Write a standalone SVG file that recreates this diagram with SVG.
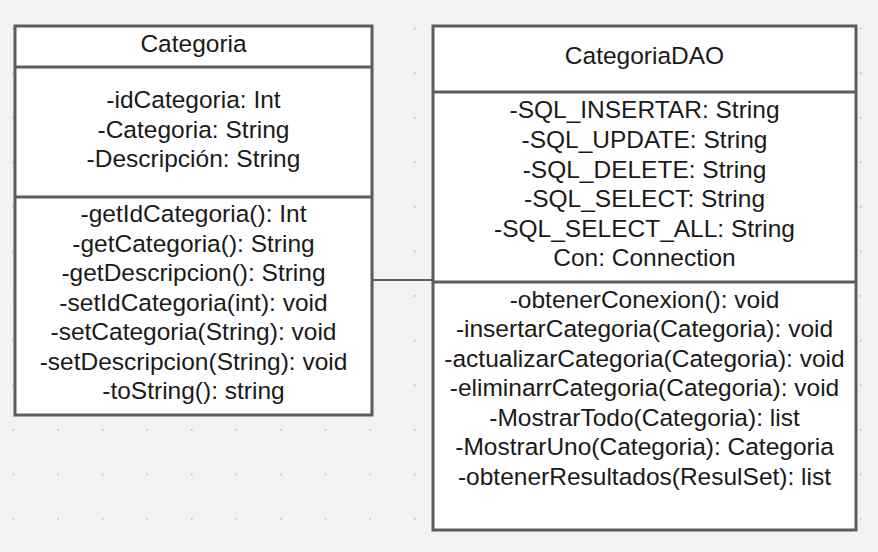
<svg xmlns="http://www.w3.org/2000/svg" width="878" height="552" viewBox="0 0 878 552">
<style>
.box{fill:#ffffff;stroke:#5c5c5c;stroke-width:3}
.sep{stroke:#5c5c5c;stroke-width:3;fill:none}
.conn{stroke:#5c5c5c;stroke-width:2;fill:none}
text{font-family:"Liberation Sans",Arial,sans-serif;font-size:24.5px;fill:#1a1a1a;text-anchor:middle}
</style>
<defs>
<pattern id="grid" x="12.5" y="27.6" width="44.6" height="44.6" patternUnits="userSpaceOnUse">
<circle cx="0.8" cy="0.8" r="0.9" fill="#b4b6ba"/>
</pattern>
</defs>
<rect x="0" y="0" width="878" height="552" fill="#f1f2f4"/>
<rect x="0" y="0" width="878" height="552" fill="url(#grid)"/>
<g id="connectors">
<line class="conn" x1="372" y1="280" x2="433" y2="280"/>
</g>
<g id="Categoria">
<rect class="box" x="15" y="26" width="357" height="389"/>
<line class="sep" x1="15" y1="67" x2="372" y2="67"/>
<line class="sep" x1="15" y1="197" x2="372" y2="197"/>
<text x="193.5" y="52">Categoria</text>
<text x="193.5" y="108">-idCategoria: Int</text>
<text x="193.5" y="137.5">-Categoria: String</text>
<text x="193.5" y="167">-Descripción: String</text>
<text x="193.5" y="222">-getIdCategoria(): Int</text>
<text x="193.5" y="251.5">-getCategoria(): String</text>
<text x="193.5" y="281">-getDescripcion(): String</text>
<text x="193.5" y="310.5">-setIdCategoria(int): void</text>
<text x="193.5" y="340">-setCategoria(String): void</text>
<text x="193.5" y="369.5">-setDescripcion(String): void</text>
<text x="193.5" y="399">-toString(): string</text>
</g>
<g id="CategoriaDAO">
<rect class="box" x="433" y="26" width="423" height="504"/>
<line class="sep" x1="433" y1="92" x2="856" y2="92"/>
<line class="sep" x1="433" y1="282" x2="856" y2="282"/>
<text x="644.5" y="64">CategoriaDAO</text>
<text x="644.5" y="118">-SQL_INSERTAR: String</text>
<text x="644.5" y="148">-SQL_UPDATE: String</text>
<text x="644.5" y="177.5">-SQL_DELETE: String</text>
<text x="644.5" y="207">-SQL_SELECT: String</text>
<text x="644.5" y="236.5">-SQL_SELECT_ALL: String</text>
<text x="644.5" y="266">Con: Connection</text>
<text x="644.5" y="307.5">-obtenerConexion(): void</text>
<text x="644.5" y="337">-insertarCategoria(Categoria): void</text>
<text x="644.5" y="366.5">-actualizarCategoria(Categoria): void</text>
<text x="644.5" y="396">-eliminarrCategoria(Categoria): void</text>
<text x="644.5" y="425.5">-MostrarTodo(Categoria): list</text>
<text x="644.5" y="455">-MostrarUno(Categoria): Categoria</text>
<text x="644.5" y="484.5">-obtenerResultados(ResulSet): list</text>
</g>
</svg>
